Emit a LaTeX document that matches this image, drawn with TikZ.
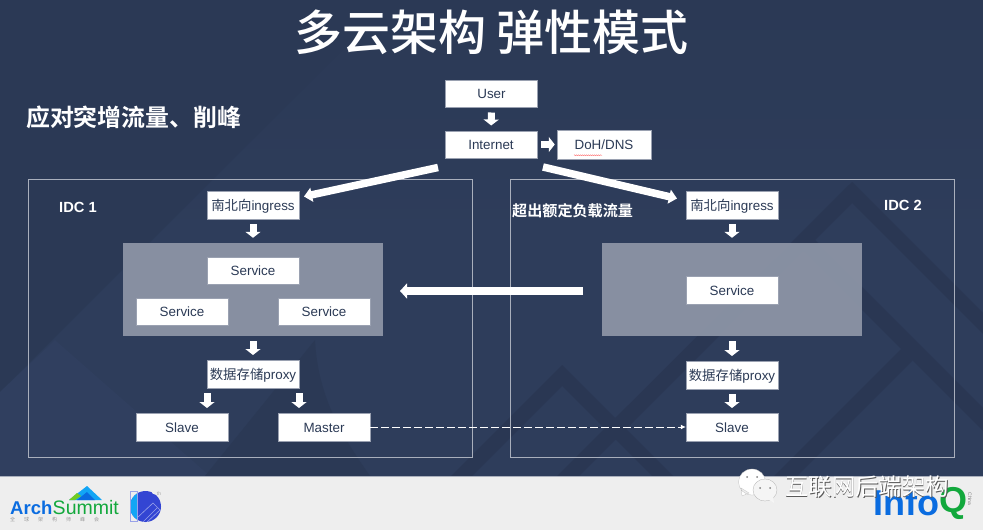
\documentclass[tikz,border=0pt]{standalone}
\usepackage{fontspec}
\setmainfont{Liberation Sans}
\newfontfamily\cjk{Noto Sans CJK SC}
\newfontfamily\cjkb{Noto Sans CJK SC Bold}
\newfontfamily\cjkm{Noto Sans CJK SC Medium}
\newcommand\ck[1]{{\cjk #1}}
\usetikzlibrary{arrows.meta,decorations.pathmorphing}
\definecolor{bgT}{HTML}{2B3955}
\definecolor{bgA}{HTML}{2E3D5B}
\definecolor{bgD}{HTML}{2A3753}
\definecolor{bgE}{HTML}{2B3955}
\definecolor{bgL}{HTML}{303F5F}
\definecolor{ink}{HTML}{2B3A55}
\definecolor{panel}{HTML}{8A92A4}
\definecolor{frame}{HTML}{A9AFBC}
\definecolor{edge}{HTML}{9AA1B1}
\definecolor{foot}{HTML}{EEEEEE}
\definecolor{blueQ}{HTML}{0A6CE0}
\definecolor{greenQ}{HTML}{12A83C}
\definecolor{indigo}{HTML}{3345D3}
\definecolor{skyc}{HTML}{12A5F5}
\tikzset{
  x=1pt,y=-1pt,
  box/.style={draw=edge,line width=.5pt,fill=white,text=ink,minimum width=92pt,minimum height=27.5pt,inner sep=0pt,text height=12.6pt,text depth=2pt,font=\fontsize{13.4}{15}\selectfont},
  idc/.style={draw=frame,line width=1pt,fill=none,minimum width=444pt,minimum height=278pt,inner sep=0pt},
  gpanel/.style={fill=panel,minimum width=260pt,minimum height=93pt,inner sep=0pt},
  smallarrow/.style={draw=white,line width=7pt,-{Triangle[width=15pt,length=6pt]},shorten >=5pt,shorten <=5pt},
  bigarrow/.style={draw=white,line width=7.5pt,-{Triangle[width=14pt,length=8pt]}},
  whitetxt/.style={text=white,inner sep=0pt},
}
\begin{document}
\begin{tikzpicture}
\useasboundingbox (0,0) rectangle (983,530);
% background
\shade[top color=bgT,bottom color=bgA,middle color=bgA] (0,0) rectangle (983,476);
\fill[bgT] (0,0) -- (392,0) -- (0,392) -- cycle;
\fill[bgL] (0,392) -- (55,340) -- (210,476) -- (0,476) -- cycle;
\fill[bgE] (205,476) -- (315,340) .. controls (318,400) and (345,440) .. (370,476) -- cycle;
\fill[bgD] (852,182) -- (983,313) -- (983,334) -- (852,203) -- (579,476) -- (557,476) -- cycle;
\fill[bgD] (815,240) -- (983,408) -- (983,431) -- (803.5,251.5) -- cycle;
\fill[bgD] (774,476) -- (901,349) -- (912.5,360.5) -- (797,476) -- cycle;
\fill[bgD] (562,365) -- (673,476) -- (652,476) -- (562,386) -- (472,476) -- (451,476) -- cycle;
\fill[foot] (0,476) rectangle (983,530);
\draw[frame,line width=.8pt] (0,476) -- (983,476);
% title
\node[whitetxt,font=\cjkm\fontsize{48}{52}\selectfont] (title) at (491.5,32) {多云架构 弹性模式};
\node[whitetxt,anchor=west,font=\cjkb\fontsize{23.9}{26}\selectfont] (sub) at (26,117) {应对突增流量、削峰};
% frames
\node[idc] (idc1) at (250,318) {};
\node[idc] (idc2) at (732,318) {};
\node[gpanel,fill opacity=.97] (p1) at (253,289.5) {};
\node[gpanel,fill opacity=.97] (p2) at (732,289.5) {};
\node[whitetxt,font=\fontsize{14.7}{17}\selectfont\bfseries] (l1) at (78,207.5) {IDC 1};
\node[whitetxt,font=\fontsize{14.7}{17}\selectfont\bfseries] (l2) at (903,205.5) {IDC 2};
\node[whitetxt,anchor=west,font=\cjkb\fontsize{15.1}{17}\selectfont] (over) at (512,211) {超出额定负载流量};
% boxes
\node[box] (user) at (491.5,93.5) {User};
\node[box] (net) at (491,144.5) {Internet};
\node[box,minimum width=94pt,minimum height=29pt] (dns) at (604,144.5) {DoH/DNS};
\draw[red!70!white,line width=.35pt,decorate,decoration={snake,amplitude=.4pt,segment length=2pt}] (574,155.2) -- (602,155.2);
\node[box] (ing1) at (253,205) {\ck{南北向}ingress};
\node[box] (ing2) at (732,205) {\ck{南北向}ingress};
\node[box] (s1) at (253,270.5) {Service};
\node[box] (s2) at (182,311.5) {Service};
\node[box] (s3) at (324,311.5) {Service};
\node[box] (s4) at (732,290) {Service};
\node[box] (px1) at (253,374) {\ck{数据存储}proxy};
\node[box] (px2) at (732,375) {\ck{数据存储}proxy};
\node[box] (slave1) at (182,427) {Slave};
\node[box] (master) at (324,427) {Master};
\node[box] (slave2) at (732,427) {Slave};
% small block arrows
\draw[smallarrow] (user) -- (net);
\draw[smallarrow,shorten >=2pt,shorten <=4pt] (net.east) -- (dns.west);
\draw[smallarrow] (ing1) -- (p1);
\draw[smallarrow] (ing2) -- (p2);
\draw[smallarrow] (p1) -- (px1);
\draw[smallarrow] (p2) -- (px2);
\draw[smallarrow] (px2) -- (slave2);
\coordinate (pxL) at (207,388);
\coordinate (pxR) at (299,388);
\draw[smallarrow] (pxL) -- (pxL|-slave1.north);
\draw[smallarrow] (pxR) -- (pxR|-master.north);
% big arrows
\coordinate (a1) at (438,167.5);
\coordinate (a1t) at (304,196.5);
\coordinate (a2) at (543,167);
\coordinate (a2t) at (677,198.5);
\coordinate (a3) at (583,291);
\coordinate (a4) at (400,291);
\draw[bigarrow] (a1) -- (a1t);
\draw[bigarrow] (a2) -- (a2t);
\draw[bigarrow,-{Triangle[width=15pt,length=7pt]}] (a3) -- (a4);
% dashed
\draw[white,line width=.8pt,dash pattern=on 8pt off 3pt,-{Latex[length=5pt,width=5pt]}] (master) -- (slave2);
% ArchSummit logo
\node[anchor=west,inner sep=0pt,text=blueQ,font=\bfseries\fontsize{18.5}{20}\selectfont] (arch) at (10,508) {Arch};
\node[anchor=west,inner sep=0pt,text=greenQ,font=\fontsize{19.5}{20}\selectfont] (summit) at (arch.east) {Summit};
\fill[skyc] (69,500) -- (87,486) -- (102,500) -- cycle;
\fill[blueQ] (77,500) -- (87,492) -- (95,500) -- cycle;
\fill[greenQ!60!yellow] (69,500) -- (77,493) -- (81,496) -- (75,500) -- cycle;
\node[anchor=west,inner sep=0pt,text=gray!80,font=\cjk\fontsize{5}{6}\selectfont] (cn) at (10,520) {全\hspace{9pt}球\hspace{9pt}架\hspace{9pt}构\hspace{9pt}师\hspace{9pt}峰\hspace{9pt}会};
% circle logo
\fill[indigo] (145.5,506.5) circle (15.5);
\begin{scope}
\clip (145.5,506.5) circle (15.5);
\fill[skyc] (129,490) rectangle (137.5,523);
\draw[indigo!50!white,line width=.6pt] (138,517) -- (153,503) -- (160,510) -- (146,523) (143,522) -- (157,508);
\end{scope}
\fill[foot] (155,491) circle (3.5);
\draw[indigo!50!white,line width=.7pt] (130,491) rectangle (137.5,521);
\node[inner sep=0pt,text=gray!70,font=\fontsize{5}{6}\selectfont] (th) at (159,494) {th};
% InfoQ
\node[anchor=west,inner sep=0pt,text=blueQ,font=\bfseries\fontsize{36}{38}\selectfont] (info) at (873,503) {Info};
\node[anchor=west,inner sep=0pt,text=greenQ,font=\bfseries\fontsize{36}{38}\selectfont] (q) at (info.east) {Q};
\node[inner sep=0pt,rotate=-90,text=gray,font=\fontsize{5}{6}\selectfont] (china) at (970,499) {China};
% wechat icon
\fill[white,draw=gray!50,line width=.3pt] (752,482) ellipse (13.5 and 13) (741,488) -- (742,496) -- (749,493) -- cycle;
\fill[foot!60!white,draw=gray!60,line width=.3pt] (765,490) ellipse (12 and 11);
\fill[foot!60!white] (768,499) -- (774,503) -- (773,496) -- cycle;
\fill[gray] (747,477) circle (1) (757,477) circle (1) (760,488) circle (1) (770,488) circle (1);
% watermark
\node[whitetxt,anchor=west,text=black!65,font=\cjk\fontsize{23.4}{26}\selectfont] (wm0) at (785.7,487.7) {互联网后端架构};
\node[whitetxt,anchor=west,font=\cjk\fontsize{23.4}{26}\selectfont] (wm) at (785,487) {互联网后端架构};
\end{tikzpicture}
\end{document}
